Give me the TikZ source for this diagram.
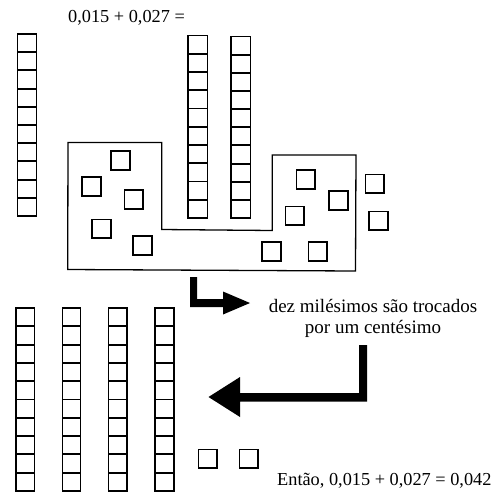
\documentclass[tikz,border=0pt]{standalone}
\usepackage{fontspec}
\setmainfont{Liberation Serif}
\begin{document}
\begin{tikzpicture}[x=1pt,y=-1pt,
  cell/.style={draw=black, line width=1.9pt},
  unitsq/.style={draw=black, line width=1.9pt},
  region/.style={draw=black, line width=1.3pt, line join=miter},
  bigarrow/.style={fill=black, draw=none},
  txt/.style={inner sep=0pt, font=\fontsize{18.3}{20}\selectfont},
  note/.style={inner sep=0pt, font=\fontsize{19}{21}\selectfont}]
  \useasboundingbox (0,0) rectangle (492,491);

  % a strip of ten cells: x-left, x-right, y-top, cell height
  \newcommand{\tenstrip}[4]{%
    \foreach \k in {0,...,9}{%
      \draw[cell] (#1,{#3+\k*#4}) rectangle (#2,{#3+(\k+1)*#4});
    }}

  \node[txt, anchor=base west] (sum) at (68,22) {0,015 + 0,027 =};

  % tens of thousandths in the first number and the second
  \tenstrip{17.5}{36.5}{34}{18.2}
  \tenstrip{188}{207.5}{35.5}{18.25}
  \tenstrip{231}{250.5}{36.5}{18.15}

  % boundary that groups the ten thousandths
  \draw[region] (68,142.5) -- (161.7,142.5) -- (161.7,229.5) -- (272.3,230.5)
    -- (272.3,155) -- (356,155) -- (355.5,271) -- (67.7,269.5) -- cycle;

  % thousandths
  \foreach \x/\y in {111/151, 82/177, 124.5/190, 92/219.5, 133/236,
                     296.5/170, 329/191, 285.5/206.5, 262/242, 308.5/242,
                     365.5/174.5, 369/211.5}{
    \draw[unitsq] (\x,\y) rectangle ++(18.6,18.6);
  }

  % exchange arrows
  \draw[bigarrow] (190,277) -- (197,277) -- (197,299) -- (223,299) -- (223,291.5)
    -- (250,303) -- (223,314.5) -- (223,307) -- (190,307) -- cycle;
  \draw[bigarrow] (359,345) -- (367,345) -- (367,401.5) -- (240,401.5) -- (240,417)
    -- (208.5,397) -- (240,377) -- (240,393) -- (359,393) -- cycle;

  \node[note, anchor=base] (lineA) at (373,312.7) {dez milésimos são trocados};
  \node[note, anchor=base] (lineB) at (373,333.3) {por um centésimo};

  % result: four hundredths and two thousandths
  \tenstrip{16}{34.5}{308}{18.3}
  \tenstrip{62.5}{80.5}{308}{18.3}
  \tenstrip{108.5}{127}{308}{18.3}
  \tenstrip{155}{174}{308}{18.3}

  \draw[unitsq] (198.5,449.5) rectangle ++(18.3,18.3);
  \draw[unitsq] (239.5,449.5) rectangle ++(18.3,18.3);

  \node[txt, anchor=base west] (result) at (277,485) {Então, 0,015 + 0,027 = 0,042};
\end{tikzpicture}
\end{document}
